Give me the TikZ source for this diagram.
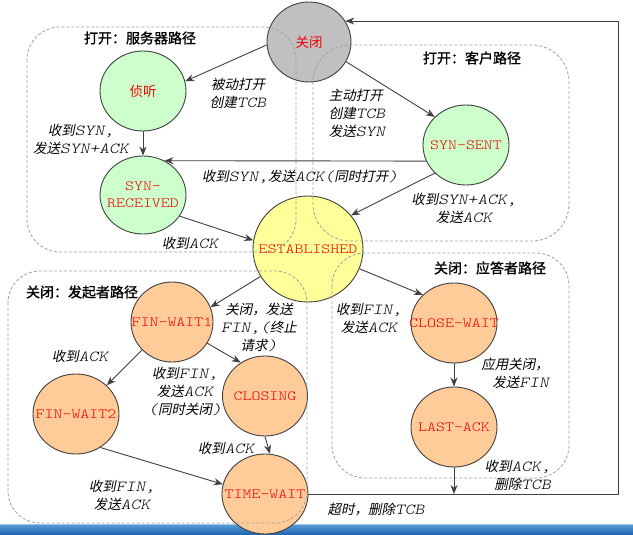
\documentclass[tikz,border=0pt]{standalone}
\usepackage{fontspec}
\setmainfont{Liberation Mono}
% slab-serif typewriter face, widened to the proportions of a Courier face
\newfontfamily\typew[FakeStretch=1.22, ItalicFont=lmmonolt10-oblique.otf]{lmmonolt10-regular.otf}
\newfontfamily\cjk{Noto Sans CJK SC}
\newfontfamily\cjksl[FakeSlant=0.2]{Noto Sans CJK SC}
\newfontfamily\cjkbf[FakeBold=1.2]{Noto Sans CJK SC}
\usetikzlibrary{shapes.geometric,arrows.meta}

\definecolor{closedfill}{HTML}{C0C0C0}
\definecolor{openfill}{HTML}{CCFFCC}
\definecolor{estfill}{HTML}{FFFF99}
\definecolor{closefill}{HTML}{FFCC99}
\definecolor{edgegray}{HTML}{404040}
\definecolor{dashgray}{HTML}{A0A0A0}
\definecolor{statered}{HTML}{F00000}
\definecolor{bandtop}{HTML}{5A9FDA}
\definecolor{bandbot}{HTML}{1A62AE}

% Chinese text inside transition labels (slanted) and inside states (upright)
\newcommand\zh[1]{{\cjksl\fontsize{13.5}{18}\selectfont#1}}
\newcommand\zhn[1]{{\cjk\fontsize{13.5}{17}\selectfont#1}}

\tikzset{
  state/.style={ellipse, draw=edgegray, line width=0.9pt, minimum width=86pt,
    minimum height=80pt, inner sep=0pt},
  statetext/.style={text=statered, font=\typew\fontsize{14}{17}\selectfont,
    align=center, inner sep=0pt},
  edge/.style={draw=edgegray, line width=0.9pt, -{Stealth[length=9pt,width=7pt]}},
  lbl/.style={font=\typew\fontsize{15.3}{18}\selectfont\itshape, align=center, inner sep=0pt},
  region/.style={draw=dashgray, line width=0.8pt, dash pattern=on 3pt off 2pt},
  regiontitle/.style={font=\cjkbf\fontsize{14}{17}\selectfont, inner sep=0pt},
}

\begin{document}
\begin{tikzpicture}[x=1pt, y=-1pt]
  \useasboundingbox (0,0) rectangle (633,535);
  \fill[white] (0,0) rectangle (633,535);

  % slide band along the bottom
  \shade[top color=bandtop, bottom color=bandbot] (0,524) rectangle (633,535);
  \draw[color=bandtop!60!white, line width=0.8pt] (0,524.4) -- (633,524.4);

  % states
  \node[state, fill=closedfill, minimum width=84pt,
        label={[statetext]center:\zhn{关闭}}] (closed) at (309,42) {};
  \node[state, fill=openfill, label={[statetext]center:\zhn{侦听}}] (listen) at (143,91) {};
  \node[state, fill=openfill, minimum height=78pt,
        label={[statetext]center:SYN-\\RECEIVED}] (synrcvd) at (143,195) {};
  \node[state, fill=openfill, label={[statetext]center:SYN-SENT}] (synsent) at (466,145) {};
  \node[state, fill=estfill, minimum width=110pt, minimum height=106pt,
        label={[statetext]center:ESTABLISHED}] (est) at (308,249) {};
  \node[state, fill=closefill, minimum width=82pt,
        label={[statetext]center:FIN-WAIT1}] (fw1) at (172,322) {};
  \node[state, fill=closefill, label={[statetext]center:CLOSE-WAIT}] (cw) at (454,323) {};
  \node[state, fill=closefill, label={[statetext]center:FIN-WAIT2}] (fw2) at (76,414) {};
  \node[state, fill=closefill, minimum width=85pt,
        label={[statetext]center:CLOSING}] (closing) at (265,396) {};
  \node[state, fill=closefill, label={[statetext]center:LAST-ACK}] (la) at (454,427) {};
  \node[state, fill=closefill, label={[statetext]center:TIME-WAIT}] (tw) at (265,494) {};

  % dashed path regions
  \draw[region, rounded corners=33pt] (27,27) rectangle (296,252);
  \draw[region, rounded corners=37pt] (313,45) rectangle (569,241);
  \draw[region, rounded corners=32pt] (8,271) rectangle (307,523);
  \draw[region, rounded corners=33pt] (332,253) rectangle (569,478);

  \node[regiontitle] (ttserver) at (140,38) {打开：服务器路径};
  \node[regiontitle] (ttclient) at (472,58) {打开：客户路径};
  \node[regiontitle] (ttactive) at (82,292) {关闭：发起者路径};
  \node[regiontitle] (ttpassive) at (490,268) {关闭：应答者路径};

  % transitions
  \draw[edge] (closed.184) -- (listen.13);
  \draw[edge] (closed.332) -- (synsent.138);
  \draw[edge] (listen) -- (synrcvd);
  \draw[edge] (synsent.202) -- (synrcvd.58);
  \draw[edge] (synrcvd.330) -- (est.171);
  \draw[edge] (synsent.222) -- (est.38);
  \draw[edge] (est.210) -- (fw1.21);
  \draw[edge] (est.339) -- (cw.138);
  \draw[edge] (cw) -- (la);
  \draw[edge] (fw1.223) -- (fw2.43);
  \draw[edge] (fw1.329) -- (closing.126);
  \draw[edge] (closing.south) -- (tw.83);
  \draw[edge] (fw2.306) -- (tw.167);

  % return loop to CLOSED
  \coordinate (loopx) at (618,0);
  \draw[edge] (tw.east) -| (closed.30 -| loopx) -- (closed.30);
  \draw[edge] (la) -- (la |- tw.east);

  % transition labels
  \node[lbl] (l1) at (238,93.5) {\zh{被动打开}\\\zh{创建}TCB};
  \node[lbl, align=left] (l2) at (357,113) {\zh{主动打开}\\\zh{创建}TCB\\\zh{发送}SYN};
  \node[lbl] (l3) at (81,139) {\zh{收到}SYN,\\\zh{发送}SYN+ACK};
  \node[lbl] (l4) at (300,177) {\zh{收到}SYN,\zh{发送}ACK(\zh{同时打开})};
  \node[lbl] (l5) at (190,243) {\zh{收到}ACK};
  \node[lbl] (l6) at (464,208) {\zh{收到}SYN+ACK,\\\zh{发送}ACK};
  \node[lbl] (l7) at (259,327) {\zh{关闭，发送}\\FIN,(\zh{终止}\\\zh{请求})};
  \node[lbl] (l8) at (369,318) {\zh{收到}FIN,\\\zh{发送}ACK};
  \node[lbl, align=right, anchor=east] (l9) at (549,373) {\zh{应用关闭，}\\\zh{发送}FIN};
  \node[lbl, align=right, anchor=east] (l10) at (551,475) {\zh{收到}ACK,\\\zh{删除}TCB};
  \node[lbl] (l11) at (80,356) {\zh{收到}ACK};
  \node[lbl] (l12) at (185,391) {\zh{收到}FIN,\\\zh{发送}ACK\\(\zh{同时关闭})};
  \node[lbl] (l13) at (226,448) {\zh{收到}ACK};
  \node[lbl] (l14) at (122,495) {\zh{收到}FIN,\\\zh{发送}ACK};
  \node[lbl] (l15) at (376,510) {\zh{超时，删除}TCB};
\end{tikzpicture}
\end{document}
